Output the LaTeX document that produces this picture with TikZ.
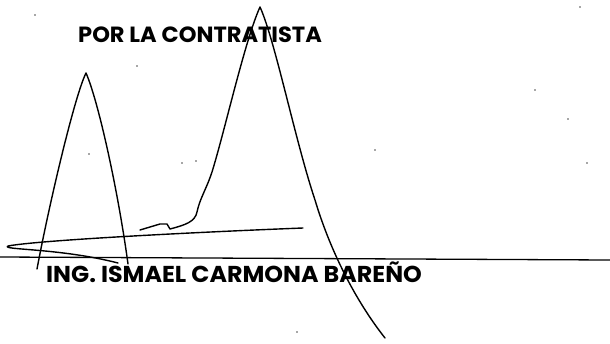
\documentclass[tikz,border=0pt]{standalone}
\usepackage{fontspec}
\setmainfont{Poppins}
\usepackage{graphicx}
\usepackage{tikz}
\usetikzlibrary{positioning}

\tikzset{
  sign/.style={line width=1.4pt, line cap=round, line join=round},
  label text/.style={anchor=base west, inner sep=0pt, font=\fontsize{22}{24}\selectfont\bfseries},
  speck/.style={fill=black!70, draw=none}
}

\begin{document}
\begin{tikzpicture}[x=1pt, y=-1pt]
\useasboundingbox (0,0) rectangle (610,343);

% texts
\node [label text] (title) at (78,42) {\scalebox{1.025}[1]{POR LA CONTRATISTA}};
\node [label text, font=\fontsize{23}{25}\selectfont\bfseries] (name) at (46,282) {\scalebox{1.035}[1]{ING. ISMAEL CARMONA BAREÑO}};

% signature line
\draw [line width=1.3pt] (0,257) -- (610,260);

% left spike
\draw [sign] (37,269) .. controls (50,200) and (75,95) .. (86,73)
  .. controls (98,100) and (118,190) .. (128,264);

% big spike with hook
\draw [sign] (140,230) -- (160,224) -- (167,224) -- (170,229)
  .. controls (185,225) and (195,222) .. (197,212)
  .. controls (200,198) and (206,190) .. (212,172)
  .. controls (225,130) and (245,40) .. (260,7)
  .. controls (275,40) and (295,140) .. (315,200)
  .. controls (330,250) and (355,300) .. (385,338);

% long flourish
\draw [sign] (303,228) .. controls (200,232) and (40,240) .. (8,246)
  .. controls (0,250) and (60,248) .. (118,263);

% specks
\foreach \px/\py in {35/15, 580/7, 535/90, 568/119, 587/163, 375/150, 89/154, 196/161, 182/163, 297/332, 137/66}
  \fill [speck] (\px,\py) circle (0.8);

\end{tikzpicture}
\end{document}
